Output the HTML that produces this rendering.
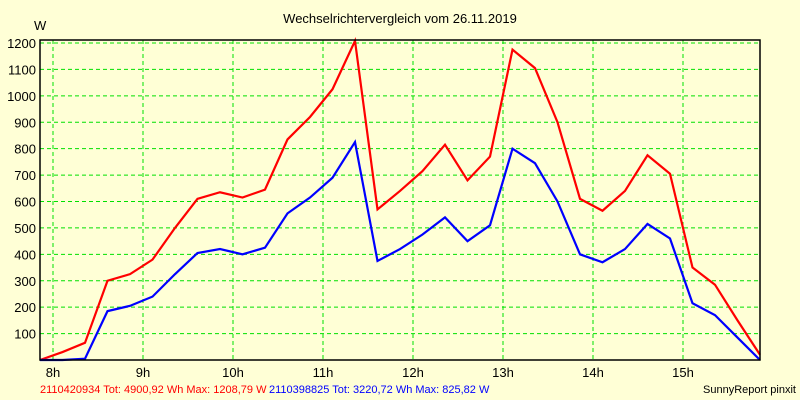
<!DOCTYPE html>
<html><head><meta charset="utf-8"><style>
html,body{margin:0;padding:0;background:#ffffd6;}
svg{display:block;font-family:"Liberation Sans",sans-serif;}
</style></head><body>
<svg width="800" height="400">
<script>
const hourLabels=["8h","9h","10h","11h","12h","13h","14h","15h"];
const yTicks=[100,200,300,400,500,600,700,800,900,1000,1100,1200];
const redValues=[0,30,65,300,325,380,500,610,635,615,645,835,920,1025,1208,570,640,715,815,680,770,1175,1105,900,610,565,640,775,705,350,285,150,20];
const blueValues=[0,0,5,185,205,240,325,405,420,400,425,555,615,690,825,375,420,475,540,450,510,800,745,600,400,370,420,515,460,215,170,85,0];
</script>
<rect x="0" y="0" width="800" height="400" fill="#ffffd6"/>
<text x="400" y="23" text-anchor="middle" font-size="13">Wechselrichtervergleich vom 26.11.2019</text>
<text x="34" y="30" font-size="13">W</text>
<g id="grid"></g>
<g id="marks"></g>
<rect x="40" y="40" width="720" height="320" fill="none" stroke="#000" stroke-width="1.5"/>
<text x="40" y="393" font-size="11" fill="#ff0000">2110420934 Tot: 4900,92 Wh Max: 1208,79 W</text>
<text x="269" y="393" font-size="11" fill="#0000ff">2110398825 Tot: 3220,72 Wh Max: 825,82 W</text>
<text x="796" y="393" text-anchor="end" font-size="11">SunnyReport pinxit</text>
<script>
const NS="http://www.w3.org/2000/svg";
const x0=40,xStep=22.5,y0=360,yPer=(360-43)/1200;
const xHour=i=>53+90*i;
const xPt=i=>x0+xStep*i;
const yv=v=>y0-v*yPer;
const grid=document.getElementById('grid');
yTicks.forEach(t=>{
  const l=document.createElementNS(NS,'line');
  l.setAttribute('x1',40);l.setAttribute('x2',760);l.setAttribute('y1',yv(t));l.setAttribute('y2',yv(t));
  l.setAttribute('stroke','#00e000');l.setAttribute('stroke-dasharray','4,3');
  
  
  grid.appendChild(l);
  const tx=document.createElementNS(NS,'text');
  tx.setAttribute('x',36);tx.setAttribute('y',yv(t)+5);tx.setAttribute('text-anchor','end');tx.setAttribute('font-size','13');
  tx.textContent=t;
  
  
  grid.appendChild(tx);
});
hourLabels.forEach((h,i)=>{
  const l=document.createElementNS(NS,'line');
  l.setAttribute('x1',xHour(i));l.setAttribute('x2',xHour(i));l.setAttribute('y1',40);l.setAttribute('y2',360);
  l.setAttribute('stroke','#00e000');l.setAttribute('stroke-dasharray','4,3');
  
  
  grid.appendChild(l);
  const tx=document.createElementNS(NS,'text');
  tx.setAttribute('x',xHour(i));tx.setAttribute('y',377);tx.setAttribute('text-anchor','middle');tx.setAttribute('font-size','13');
  tx.textContent=h;
  
  
  grid.appendChild(tx);
});
const marks=document.getElementById('marks');
function line(vals,color,name){
  const p=document.createElementNS(NS,'polyline');
  p.setAttribute('points',vals.map((v,i)=>xPt(i)+','+yv(v)).join(' '));
  p.setAttribute('fill','none');p.setAttribute('stroke',color);p.setAttribute('stroke-width','2.2');
  
  
  marks.appendChild(p);
}
line(redValues,'#ff0000','series-red');
line(blueValues,'#0000ff','series-blue');
</script>
</svg>
</body></html>
